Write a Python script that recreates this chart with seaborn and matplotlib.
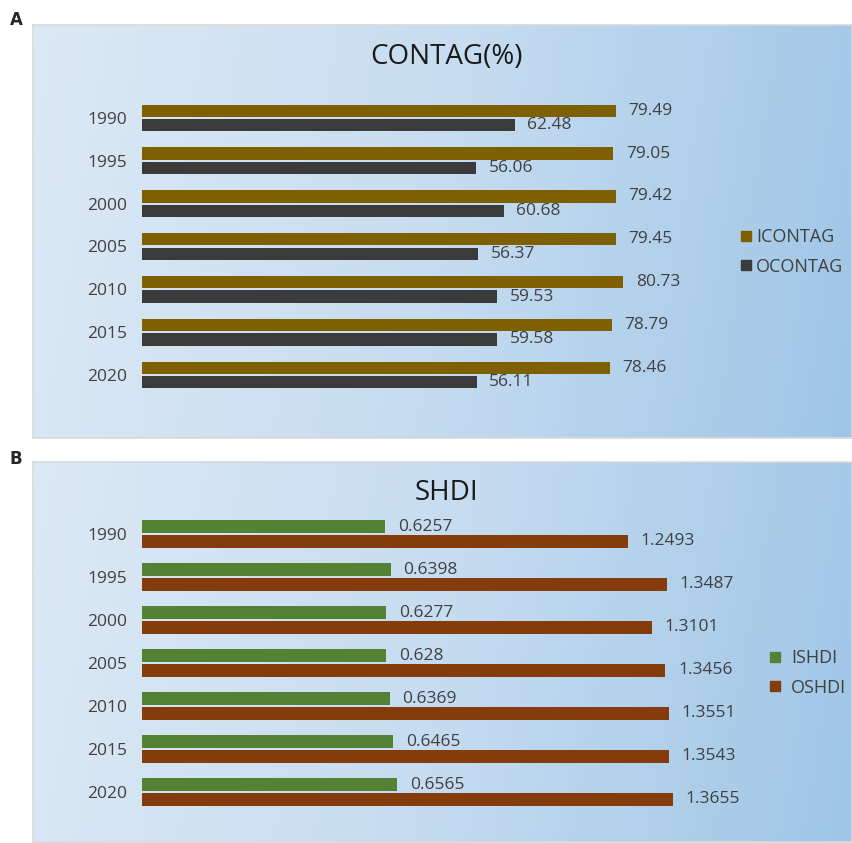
import numpy as np
import pandas as pd
import seaborn as sns
import matplotlib.pyplot as plt
from matplotlib.colors import LinearSegmentedColormap
from matplotlib.lines import Line2D

# data
years = ["1990", "1995", "2000", "2005", "2010", "2015", "2020"]
icontag = [79.49, 79.05, 79.42, 79.45, 80.73, 78.79, 78.46]
ocontag = [62.48, 56.06, 60.68, 56.37, 59.53, 59.58, 56.11]
ishdi = ["0.6257", "0.6398", "0.6277", "0.628", "0.6369", "0.6465", "0.6565"]
oshdi = ["1.2493", "1.3487", "1.3101", "1.3456", "1.3551", "1.3543", "1.3655"]

sns.set_theme(style="white")
plt.rcParams["font.family"] = ["Open Sans", "DejaVu Sans"]
txt = "#404040"

W, H = 853, 843
fig = plt.figure(figsize=(W / 100, H / 100), dpi=100)

grad = LinearSegmentedColormap.from_list("bg", ["#dde9f5", "#c6dcf0", "#9fc6e7"])


def panel_bg(x0, y0, x1, y1):
    # gradient box in pixel coords (y from top)
    bg = fig.add_axes([x0 / W, 1 - y1 / H, (x1 - x0) / W, (y1 - y0) / H], zorder=0)
    g = np.linspace(0, 1, 256)[None, :] + np.linspace(0, 0.08, 64)[:, None]
    bg.imshow(g, aspect="auto", cmap=grad, extent=[0, 1, 0, 1], vmin=0, vmax=1.08)
    bg.set_xticks([])
    bg.set_yticks([])
    for s in bg.spines.values():
        s.set_color("#d9d9d9")
        s.set_linewidth(1.2)


def panel(df, cols, colors, lab1, lab2, xmax, y_top, y_bot, title, title_y,
          leg_x, leg_y, textpad):
    ax = fig.add_axes([142 / W, 1 - y_bot / H, 568 / W, (y_bot - y_top) / H], zorder=2)
    ax.patch.set_alpha(0)
    long = df.melt(id_vars="year", value_vars=cols, var_name="series", value_name="value")
    sns.barplot(data=long, x="value", y="year", hue="series", palette=colors,
                orient="h", width=0.68, gap=0.15, saturation=1, linewidth=0,
                ax=ax, legend=False)
    for cont, labs in zip(ax.containers, [lab1, lab2]):
        ax.bar_label(cont, labels=labs, padding=9, fontsize=12.5, color=txt)
    ax.set_xlim(0, xmax)
    ax.set_xlabel("")
    ax.set_ylabel("")
    ax.set_xticks([])
    ax.tick_params(axis="y", length=0, pad=11, labelsize=12.5, labelcolor=txt)
    sns.despine(ax=ax, left=True, bottom=True)
    fig.text(447 / W, 1 - title_y / H, title, ha="center", va="center",
             fontsize=20, color="#1a1a1a")
    handles = [Line2D([], [], marker="s", linestyle="", markersize=7.5, color=c) for c in colors]
    fig.legend(handles, cols, loc="center left", bbox_to_anchor=(leg_x / W, 1 - leg_y / H),
               frameon=False, fontsize=13, handletextpad=textpad, labelspacing=0.62,
               handlelength=1.0, labelcolor=txt, borderpad=0)


panel_bg(33, 25, 852, 438)
panel_bg(33, 462, 852, 842)
fig.text(10 / W, 1 - 20 / H, "A", fontsize=12, fontweight="bold", ha="left", va="center",
         family="DejaVu Sans")
fig.text(10 / W, 1 - 459 / H, "B", fontsize=12, fontweight="bold", ha="left", va="center",
         family="DejaVu Sans")

df_a = pd.DataFrame({"year": years, "ICONTAG": icontag, "OCONTAG": ocontag})
panel(df_a, ["ICONTAG", "OCONTAG"], ["#7f6000", "#3b3b3b"],
      [f"{v:.2f}" for v in icontag], [f"{v:.2f}" for v in ocontag],
      568 / 5.963, 96.6, 396.4, "CONTAG(%)", 57, 728, 252, 0.05)

df_b = pd.DataFrame({"year": years, "ISHDI": [float(v) for v in ishdi],
                     "OSHDI": [float(v) for v in oshdi]})
panel(df_b, ["ISHDI", "OSHDI"], ["#548235", "#843c0c"], ishdi, oshdi,
      568 / 389, 512.5, 813.5, "SHDI", 493, 757, 673, 0.4)

fig.savefig("out.png", dpi=100)
